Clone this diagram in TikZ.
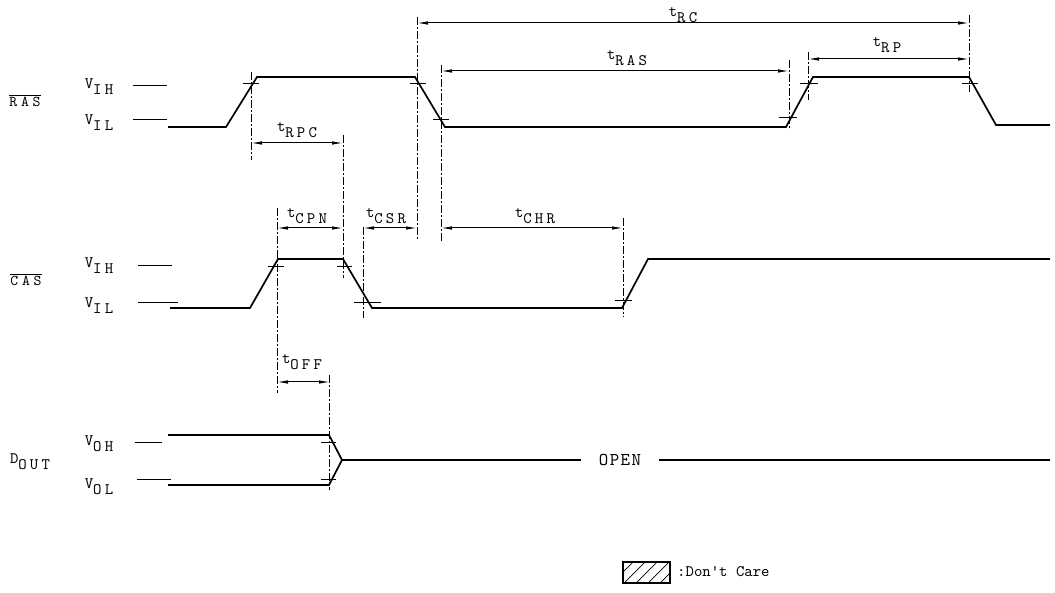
\documentclass[tikz,border=0pt]{standalone}
\usepackage{fontspec}
\newfontfamily\typ{lmmono10-regular.otf}[LetterSpace=20]
\usetikzlibrary{arrows.meta}

\tikzset{
  wave/.style={line width=1.7pt,line join=miter},
  guide/.style={line width=0.5pt,dash pattern=on 8pt off 2pt on 2pt off 2pt},
  dim/.style={line width=1pt,{Latex[length=11pt,width=3.5pt]}-{Latex[length=11pt,width=3.5pt]}},
  lvl/.style={line width=0.7pt},
  lbl/.style={font=\typ\fontsize{16}{16}\selectfont,inner sep=0pt},
}
\newcommand{\tsub}[2]{#1\raisebox{-6pt}{#2}}
\newcommand{\ovl}[1]{\vbox{\hrule height 0.8pt\kern 2pt\hbox{#1}}}

\begin{document}
\begin{tikzpicture}[x=1pt,y=-1pt]
  \useasboundingbox (0,0) rectangle (1055,593);

  % signal names and levels
  \begin{scope}[every node/.style={lbl}]
    \node (ras)  at (25,101) {\fontsize{15}{15}\selectfont\addfontfeatures{LetterSpace=25}\ovl{RAS}};
    \node (cas)  at (26,280) {\fontsize{15}{15}\selectfont\addfontfeatures{LetterSpace=25}\ovl{CAS}};
    \node (dout) at (30,462) {\tsub{D}{OUT}};
    \node (rvih) at (99,87)  {\tsub{V}{IH}};
    \node (rvil) at (99,123) {\tsub{V}{IL}};
    \node (cvih) at (99,266) {\tsub{V}{IH}};
    \node (cvil) at (99,306) {\tsub{V}{IL}};
    \node (dvoh) at (99,444) {\tsub{V}{OH}};
    \node (dvol) at (99,487) {\tsub{V}{OL}};
  \end{scope}
  \draw[lvl] (133,85) -- (167,85);
  \draw[lvl] (133,119) -- (167,119);
  \draw[lvl] (138,265) -- (172,265);
  \draw[lvl] (138,302) -- (178,302);
  \draw[lvl] (135,442) -- (162,442);
  \draw[lvl] (137,479) -- (171,479);

  % waveforms
  \draw[wave] (168,127) -- (226,127) -- (257,77) -- (415,77) -- (445,127)
    -- (786,127) -- (813,77) -- (969,77) -- (996,125) -- (1050,125);
  \draw[wave] (170,308) -- (250,308) -- (278,259) -- (343,259) -- (372,308)
    -- (622,308) -- (648,259) -- (1050,259);
  \draw[wave] (168,435) -- (329,435) -- (342,460) -- (329,485) -- (168,485);
  \node[lbl,font=\typ\fontsize{18}{18}\selectfont\addfontfeatures{LetterSpace=8}] (open) at (620,460) {OPEN};
  \coordinate (o0) at (342,460);
  \coordinate (o1) at (1050,460);
  \draw[wave] (o0) -- ([xshift=-18pt]open.west);
  \draw[wave] ([xshift=18pt]open.east) -- (o1);

  % crossing marks
  \draw[lvl] (243,83) -- (259,83);
  \draw[lvl] (410,83) -- (426,83);
  \draw[lvl] (433,119) -- (449,119);
  \draw[lvl] (779,117) -- (797,117);
  \draw[lvl] (800,83) -- (818,83);
  \draw[lvl] (962,83) -- (978,83);
  \draw[lvl] (268,266) -- (284,266);
  \draw[lvl] (337,266) -- (352,266);
  \draw[lvl] (354,302) -- (381,302);
  \draw[lvl] (615,300) -- (632,300);
  \draw[lvl] (321,442) -- (336,442);
  \draw[lvl] (321,479) -- (336,479);

  % guide lines
  \draw[guide] (251,72) -- (251,160);
  \draw[guide] (343,135) -- (343,278);
  \draw[guide] (417,17) -- (417,240);
  \draw[guide] (441,65) -- (441,242);
  \draw[guide] (789,60) -- (789,130);
  \draw[guide] (808,52) -- (808,100);
  \draw[guide] (969,15) -- (969,92);
  \draw[guide] (277,208) -- (277,393);
  \draw[guide] (363,227) -- (363,318);
  \draw[guide] (623,218) -- (623,317);
  \draw[guide] (329,375) -- (329,490);

  % timing parameters
  \coordinate (rc1) at (417,23);   \coordinate (rc2) at (969,23);
  \coordinate (ras1) at (441,71);  \coordinate (ras2) at (789,71);
  \coordinate (rp1) at (808,59);   \coordinate (rp2) at (969,59);
  \coordinate (rpc1) at (251,143); \coordinate (rpc2) at (343,143);
  \coordinate (cpn1) at (277,228); \coordinate (cpn2) at (343,228);
  \coordinate (csr1) at (363,228); \coordinate (csr2) at (417,228);
  \coordinate (chr1) at (441,228); \coordinate (chr2) at (623,228);
  \coordinate (off1) at (277,382); \coordinate (off2) at (330,382);

  \begin{scope}[every edge/.style={draw,dim}]
    \path (rc1)  edge (rc2);
    \path (ras1) edge (ras2);
    \path (rp1)  edge (rp2);
    \path (rpc1) edge (rpc2);
    \path (cpn1) edge (cpn2);
    \path (csr1) edge (csr2);
    \path (chr1) edge (chr2);
    \path (off1) edge (off2);
  \end{scope}

  \begin{scope}[every node/.style={lbl}]
    \node (trc)  at (683,15)  {\tsub{t}{RC}};
    \node (tras) at (627,58)  {\tsub{t}{RAS}};
    \node (trp)  at (887,45)  {\tsub{t}{RP}};
    \node (trpc) at (297,130) {\tsub{t}{RPC}};
    \node (tcpn) at (307,216) {\tsub{t}{CPN}};
    \node (tcsr) at (386,216) {\tsub{t}{CSR}};
    \node (tchr) at (535,216) {\tsub{t}{CHR}};
    \node (toff) at (302,362) {\tsub{t}{OFF}};
  \end{scope}

  % legend
  \begin{scope}
    \clip (623,562) rectangle (670,583);
    \foreach \k in {0,...,5}
      \draw[line width=0.7pt] (612+\k*12,583) -- ++(21,-21);
  \end{scope}
  \draw[line width=1.2pt] (623,562) rectangle (670,583);
  \node[lbl,anchor=west,font=\typ\fontsize{16}{16}\selectfont\addfontfeatures{LetterSpace=0}] (care) at (677,572) {:Don't Care};
\end{tikzpicture}
\end{document}
